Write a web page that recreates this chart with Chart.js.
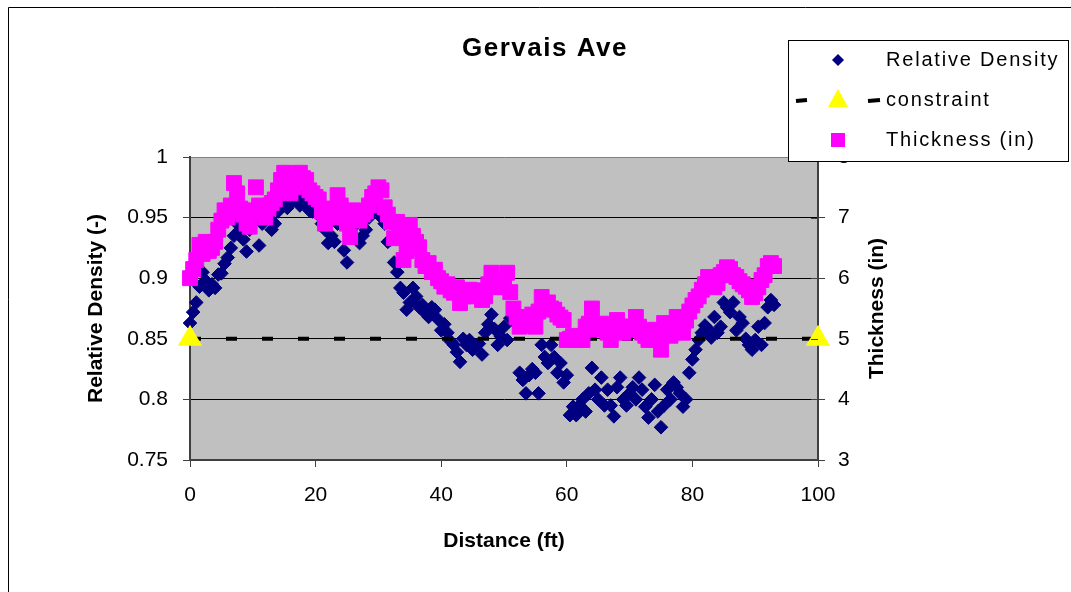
<!DOCTYPE html>
<html>
<head>
<meta charset="utf-8">
<script src="https://cdn.jsdelivr.net/npm/chart.js@4/dist/chart.umd.min.js"></script>
<style>
  html, body { margin: 0; padding: 0; background: #fff; }
  #wrap { width: 1071px; height: 592px; }
</style>
</head>
<body>
<div id="wrap"><canvas id="chart" width="1071" height="592"></canvas></div>
<script>
// distance along the road (ft)
const distance = [
  0, 0.5, 1, 1.5, 2, 2.5, 3, 3.5, 4, 4.5,
  5, 5.5, 6, 6.5, 7, 7.5, 8, 8.5, 9, 9.5,
  10, 10.5, 11, 11.5, 12, 12.5, 13, 13.5, 14, 14.5,
  15, 15.5, 16, 16.5, 17, 17.5, 18, 18.5, 19, 19.5,
  20, 20.5, 21, 21.5, 22, 22.5, 23, 23.5, 24, 24.5,
  25, 25.5, 26, 26.5, 27, 27.5, 28, 28.5, 29, 29.5,
  30, 30.5, 31, 31.5, 32, 32.5, 33, 33.5, 34, 34.5,
  35, 35.5, 36, 36.5, 37, 37.5, 38, 38.5, 39, 39.5,
  40, 40.5, 41, 41.5, 42, 42.5, 43, 43.5, 44, 44.5,
  45, 45.5, 46, 46.5, 47, 47.5, 48, 48.5, 49, 49.5,
  50, 50.5, 51, 51.5, 52, 52.5, 53, 53.5, 54, 54.5,
  55, 55.5, 56, 56.5, 57, 57.5, 58, 58.5, 59, 59.5,
  60, 60.5, 61, 61.5, 62, 62.5, 63, 63.5, 64, 64.5,
  65, 65.5, 66, 66.5, 67, 67.5, 68, 68.5, 69, 69.5,
  70, 70.5, 71, 71.5, 72, 72.5, 73, 73.5, 74, 74.5,
  75, 75.5, 76, 76.5, 77, 77.5, 78, 78.5, 79, 79.5,
  80, 80.5, 81, 81.5, 82, 82.5, 83, 83.5, 84, 84.5,
  85, 85.5, 86, 86.5, 87, 87.5, 88, 88.5, 89, 89.5,
  90, 90.5, 91, 91.5, 92, 92.5, 93
];

// relative density (-), left axis
const relDensity = [
  0.863, 0.872, 0.880, 0.893, 0.905, 0.898, 0.890, 0.895, 0.892, 0.903,
  0.904, 0.912, 0.917, 0.925, 0.935, 0.945, 0.940, 0.932, 0.922, 0.940,
  0.950, 0.960, 0.927, 0.945, 0.955, 0.950, 0.940, 0.945, 0.955, 0.960,
  0.965, 0.958, 0.962, 0.970, 0.965, 0.960, 0.968, 0.962, 0.956, 0.955,
  0.958, 0.952, 0.945, 0.940, 0.929, 0.935, 0.930, 0.945, 0.955, 0.923,
  0.913, 0.940, 0.935, 0.945, 0.929, 0.935, 0.940, 0.950, 0.955, 0.960,
  0.955, 0.950, 0.945, 0.930, 0.932, 0.913, 0.905, 0.892, 0.888, 0.874,
  0.880, 0.892, 0.885, 0.876, 0.878, 0.871, 0.868, 0.876, 0.874, 0.866,
  0.857, 0.862, 0.855, 0.848, 0.845, 0.839, 0.831, 0.850, 0.845, 0.849,
  0.841, 0.844, 0.846, 0.837, 0.855, 0.862, 0.870, 0.858, 0.845, 0.852,
  0.860, 0.849, 0.867, 0.874, 0.862, 0.822, 0.816, 0.805, 0.820, 0.825,
  0.822, 0.805, 0.845, 0.835, 0.830, 0.845, 0.835, 0.822, 0.830, 0.814,
  0.820, 0.787, 0.794, 0.787, 0.795, 0.800, 0.790, 0.805, 0.826, 0.808,
  0.800, 0.818, 0.795, 0.808, 0.795, 0.786, 0.810, 0.818, 0.800, 0.795,
  0.805, 0.810, 0.800, 0.818, 0.808, 0.794, 0.785, 0.800, 0.812, 0.790,
  0.777, 0.795, 0.808, 0.800, 0.814, 0.810, 0.805, 0.794, 0.800, 0.822,
  0.833, 0.841, 0.849, 0.855, 0.861, 0.858, 0.851, 0.868, 0.855, 0.860,
  0.880, 0.876, 0.872, 0.880, 0.857, 0.868, 0.863, 0.850, 0.845, 0.841,
  0.849, 0.860, 0.845, 0.863, 0.876, 0.882, 0.878
];

// thickness (in), right axis
const thickness = [
  6.00, 6.15, 6.30, 6.55, 6.40, 6.60, 6.45, 6.50, 6.60, 6.80,
  6.95, 7.12, 7.00, 7.20, 7.57, 7.40, 7.15, 7.05, 6.90, 6.85,
  7.12, 7.50, 7.20, 7.10, 7.00, 7.15, 7.24, 7.30, 7.45, 7.62,
  7.74, 7.55, 7.40, 7.50, 7.60, 7.74, 7.65, 7.62, 7.45, 7.40,
  7.34, 7.30, 7.10, 6.90, 7.00, 7.15, 7.05, 7.37, 7.20, 7.00,
  6.90, 6.68, 7.12, 7.00, 6.95, 7.05, 7.10, 7.20, 7.34, 7.40,
  7.50, 7.45, 7.17, 7.05, 6.93, 6.66, 6.93, 6.68, 6.30, 6.45,
  6.88, 6.70, 6.60, 6.51, 6.30, 6.20, 6.25, 6.10, 6.14, 6.00,
  5.95, 5.86, 5.90, 5.80, 5.76, 5.85, 5.59, 5.70, 5.75, 5.81,
  5.75, 5.70, 5.80, 5.64, 5.70, 5.90, 6.09, 5.95, 5.85, 5.86,
  5.95, 6.09, 5.77, 5.50, 5.36, 5.20, 5.35, 5.30, 5.25, 5.40,
  5.20, 5.45, 5.69, 5.55, 5.60, 5.50, 5.48, 5.40, 5.35, 5.31,
  4.98, 5.00, 5.05, 4.98, 5.00, 4.98, 5.20, 5.25, 5.50, 5.15,
  5.20, 5.25, 5.20, 5.10, 4.98, 5.20, 5.31, 5.20, 5.10, 5.20,
  5.15, 5.20, 5.36, 5.20, 5.10, 5.05, 4.98, 5.10, 5.15, 5.00,
  4.82, 5.26, 5.10, 5.05, 5.20, 5.36, 5.25, 5.10, 5.30, 5.45,
  5.55, 5.64, 5.70, 5.81, 5.90, 6.02, 5.95, 5.85, 5.92, 6.05,
  6.10, 6.18, 6.15, 6.05, 6.02, 5.95, 5.90, 5.86, 5.80, 5.69,
  5.75, 5.85, 5.97, 6.05, 6.20, 6.25, 6.20
];

// constraint line (relative density)
const constraintX = [0, 100];
const constraintY = [0.85, 0.85];

// axis ticks
const xTicks = [0, 20, 40, 60, 80, 100];
const yTicks = [0.75, 0.8, 0.85, 0.9, 0.95, 1];
const y2Ticks = [3, 4, 5, 6, 7, 8];

const FONT = "Arial, 'Liberation Sans', sans-serif";
const AXIS_DARK = "#404040";

const toPoints = (xs, ys) => xs.map((x, i) => ({ x: x, y: ys[i] }));

// grey plot area, outer frame, title, right axis title, legend
const decorPlugin = {
  id: "decor",
  beforeDraw(chart) {
    const { ctx, chartArea: a } = chart;
    ctx.save();
    ctx.fillStyle = "#fff";
    ctx.fillRect(0, 0, chart.width, chart.height);
    ctx.fillStyle = "#C0C0C0";
    ctx.fillRect(a.left, a.top, a.right - a.left, a.bottom - a.top);
    // outer frame
    ctx.strokeStyle = "#000";
    ctx.lineWidth = 1;
    ctx.beginPath();
    ctx.moveTo(8.5, chart.height);
    ctx.lineTo(8.5, 7.5);
    ctx.lineTo(chart.width, 7.5);
    ctx.stroke();
    ctx.restore();
  },
  afterDraw(chart) {
    const { ctx, chartArea: a } = chart;
    const y2 = chart.scales.y2;
    ctx.save();
    // inner half of right axis tick marks
    ctx.strokeStyle = AXIS_DARK;
    ctx.lineWidth = 1;
    y2Ticks.forEach(v => {
      const py = Math.round(y2.getPixelForValue(v)) + 0.5;
      ctx.beginPath();
      ctx.moveTo(a.right - 7, py);
      ctx.lineTo(a.right, py);
      ctx.stroke();
    });

    // right axis title, reading bottom to top
    ctx.save();
    ctx.translate(877, (a.top + a.bottom) / 2);
    ctx.rotate(-Math.PI / 2);
    ctx.fillStyle = "#000";
    ctx.font = "bold 21px " + FONT;
    ctx.textAlign = "center";
    ctx.textBaseline = "middle";
    ctx.fillText("Thickness (in)", 0, 0);
    ctx.restore();

    // chart title
    ctx.fillStyle = "#000";
    ctx.font = "bold 26px " + FONT;
    ctx.letterSpacing = "1.5px";
    ctx.textAlign = "center";
    ctx.textBaseline = "middle";
    ctx.fillText("Gervais Ave", 545, 49);

    // legend box
    const lx = 788, ly = 40, lw = 280, lh = 121;
    ctx.fillStyle = "#fff";
    ctx.fillRect(lx, ly, lw, lh);
    ctx.strokeStyle = "#000";
    ctx.lineWidth = 1;
    ctx.strokeRect(lx + 0.5, ly + 0.5, lw, lh);

    const mx = 838;
    const rows = [60, 100, 140];
    // diamond
    ctx.fillStyle = "#000080";
    ctx.beginPath();
    ctx.moveTo(mx, rows[0] - 6);
    ctx.lineTo(mx + 6, rows[0]);
    ctx.lineTo(mx, rows[0] + 6);
    ctx.lineTo(mx - 6, rows[0]);
    ctx.closePath();
    ctx.fill();
    // dashes + triangle
    ctx.strokeStyle = "#000";
    ctx.lineWidth = 4;
    ctx.beginPath();
    ctx.moveTo(796, rows[1] + 1);
    ctx.lineTo(807, rows[1]);
    ctx.moveTo(868, rows[1] + 1);
    ctx.lineTo(880, rows[1]);
    ctx.stroke();
    ctx.fillStyle = "#FFFF00";
    ctx.beginPath();
    ctx.moveTo(mx, rows[1] - 11);
    ctx.lineTo(mx + 10, rows[1] + 7);
    ctx.lineTo(mx - 10, rows[1] + 7);
    ctx.closePath();
    ctx.fill();
    // square
    ctx.fillStyle = "#FF00FF";
    ctx.fillRect(mx - 7, rows[2] - 7, 14, 14);

    ctx.fillStyle = "#000";
    ctx.font = "20px " + FONT;
    ctx.letterSpacing = "1.8px";
    ctx.textAlign = "left";
    ctx.textBaseline = "middle";
    ctx.fillText("Relative Density", 886, rows[0]);
    ctx.fillText("constraint", 886, rows[1]);
    ctx.fillText("Thickness (in)", 886, rows[2]);
    ctx.restore();
  }
};

const ctx = document.getElementById("chart").getContext("2d");

new Chart(ctx, {
  type: "scatter",
  data: {
    datasets: [
      {
        label: "Thickness (in)",
        data: toPoints(distance, thickness),
        yAxisID: "y2",
        pointStyle: "rect",
        pointRadius: 10.5,
        backgroundColor: "#FF00FF",
        borderColor: "#FF00FF",
        borderWidth: 1,
        order: 0,
        clip: false
      },
      {
        label: "constraint",
        type: "line",
        data: toPoints(constraintX, constraintY),
        yAxisID: "y",
        showLine: true,
        borderColor: "#000",
        borderWidth: 4,
        borderDash: [11, 25],
        pointStyle: "triangle",
        pointRadius: 14,
        pointBackgroundColor: "#FFFF00",
        pointBorderColor: "#FFFF00",
        pointBorderWidth: 0,
        order: 1,
        clip: false
      },
      {
        label: "Relative Density",
        data: toPoints(distance, relDensity),
        yAxisID: "y",
        pointStyle: "rectRot",
        pointRadius: 6.8,
        backgroundColor: "#000080",
        borderColor: "#000080",
        borderWidth: 1,
        order: 2,
        clip: false
      }
    ]
  },
  options: {
    responsive: false,
    animation: false,
    devicePixelRatio: 1,
    layout: { padding: { left: 84, right: 183, top: 157, bottom: 38 } },
    plugins: {
      legend: { display: false },
      title: { display: false },
      tooltip: { enabled: false }
    },
    scales: {
      x: {
        type: "linear",
        min: 0,
        max: 100,
        afterBuildTicks: s => { s.ticks = xTicks.map(v => ({ value: v })); },
        afterFit: s => { s.height = 94; },
        ticks: { color: "#000", font: { family: FONT, size: 21 }, padding: 16, maxRotation: 0 },
        grid: { drawOnChartArea: false, drawTicks: true, tickLength: 7, tickColor: AXIS_DARK },
        border: { color: AXIS_DARK, width: 2 },
        title: {
          display: true,
          text: "Distance (ft)",
          color: "#000",
          font: { family: FONT, size: 21, weight: "bold" },
          padding: 0
        }
      },
      y: {
        position: "left",
        min: 0.75,
        max: 1,
        afterBuildTicks: s => { s.ticks = yTicks.map(v => ({ value: v })); },
        afterFit: s => { s.width = 106; },
        ticks: {
          color: "#000",
          font: { family: FONT, size: 21 },
          padding: 15,
          callback: v => String(Number(v.toFixed(2)))
        },
        grid: {
          color: c => (c.tick && c.tick.value >= 1 ? "#808080" : "#000"),
          lineWidth: 1,
          drawTicks: true,
          tickLength: 7,
          tickColor: AXIS_DARK
        },
        border: { color: AXIS_DARK, width: 2 },
        title: {
          display: true,
          text: "Relative Density (-)",
          color: "#000",
          font: { family: FONT, size: 21, weight: "bold" },
          padding: 0
        }
      },
      y2: {
        position: "right",
        min: 3,
        max: 8,
        afterBuildTicks: s => { s.ticks = y2Ticks.map(v => ({ value: v })); },
        afterFit: s => { s.width = 70; },
        ticks: { color: "#000", font: { family: FONT, size: 21 }, padding: 13 },
        grid: { drawOnChartArea: false, drawTicks: true, tickLength: 7, tickColor: AXIS_DARK },
        border: { color: AXIS_DARK, width: 2 },
        title: { display: false }
      }
    }
  },
  plugins: [decorPlugin]
});
</script>
</body>
</html>
